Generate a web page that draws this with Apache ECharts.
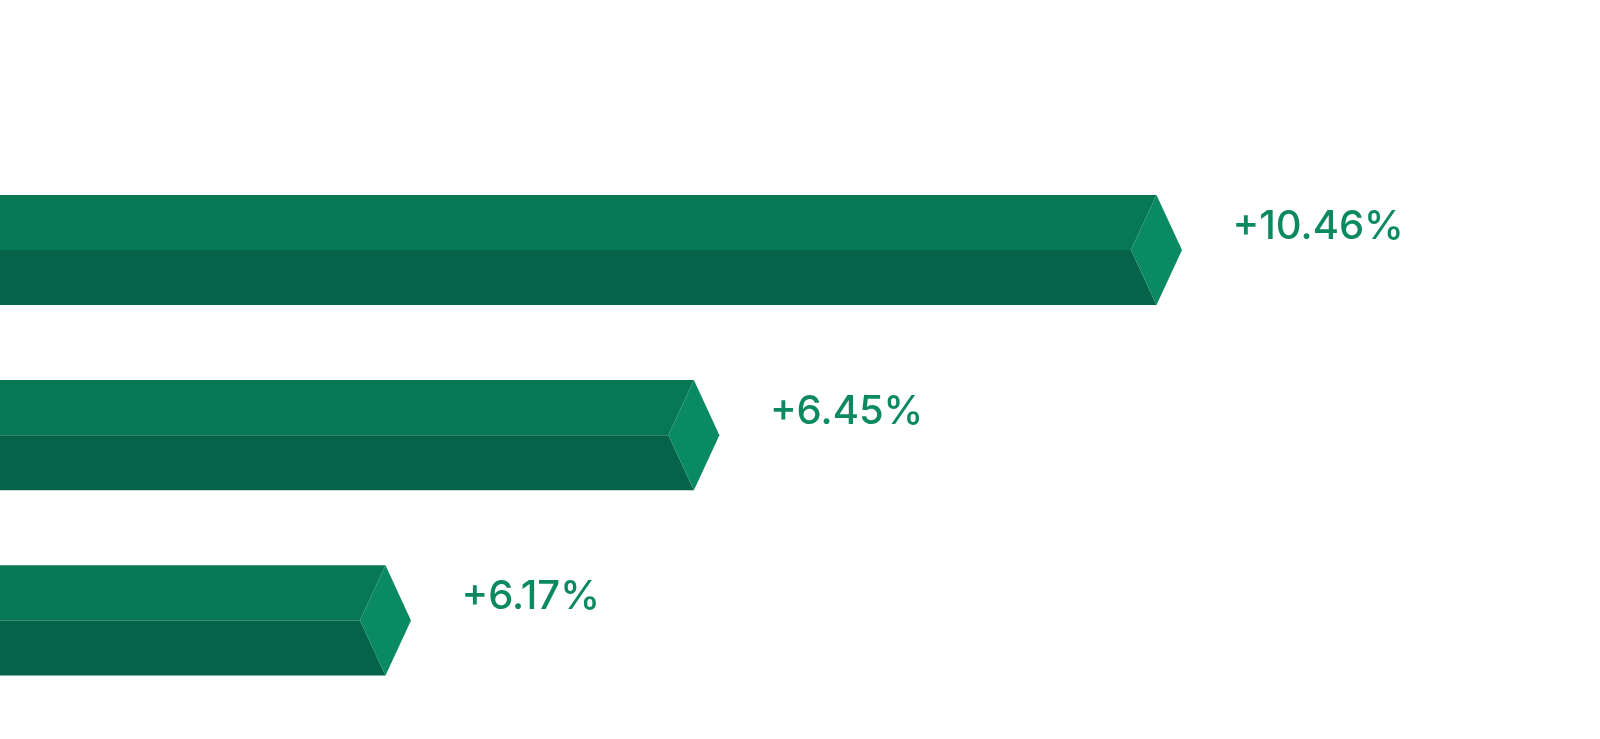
<!DOCTYPE html>
<html>
<head>
<meta charset="utf-8">
<script src="https://cdn.jsdelivr.net/npm/echarts@6/dist/echarts.min.js"></script>
<style>
html,body{margin:0;padding:0;background:#fff;}
#chart{width:1600px;height:739px;}
</style>
</head>
<body>
<div id="chart"></div>
<script>
const categories = ["Item 1", "Item 2", "Item 3"];
const barValues = [3, 1.8, 1];
const labels = ["+10.46%", "+6.45%", "+6.17%"];

const chart = echarts.init(document.getElementById('chart'));

function renderItem(params, api) {
  const idx = api.value(0);
  const end = api.coord([api.value(1), idx]);
  const start = api.coord([0, idx]);
  const band = api.size([0, 1])[1];
  const h = band * 0.595;
  const cy = end[1];
  const top = cy - h / 2, bot = cy + h / 2;
  const x0 = start[0], x1 = end[0];
  const d = h * 0.2314;
  return {
    type: 'group',
    children: [
      { type: 'polygon', shape: { points: [[x0, top], [x1, top], [x1 - d, cy], [x0, cy]] }, style: { fill: '#067853' } },
      { type: 'polygon', shape: { points: [[x0, cy], [x1 - d, cy], [x1, bot], [x0, bot]] }, style: { fill: '#05634A' } },
      { type: 'polygon', shape: { points: [[x1 - d, cy], [x1, top], [x1 + d, cy], [x1, bot]] }, style: { fill: '#0A8A62' } },
      { type: 'text', style: { text: labels[idx], x: x1 + 76, y: cy - 23, fill: '#0B8A5E', font: '500 40px Inter', textVerticalAlign: 'middle', textAlign: 'left' } }
    ]
  };
}

chart.setOption({
  animation: false,
  grid: { left: 0, right: 58, top: 157.4, bottom: 26 },
  xAxis: { type: 'value', min: 0, max: 4, show: false },
  yAxis: { type: 'category', data: categories, inverse: true, show: false },
  series: [{
    type: 'custom',
    renderItem: renderItem,
    encode: { x: 1, y: 0 },
    data: barValues.map((v, i) => [i, v])
  }]
});
</script>
</body>
</html>
